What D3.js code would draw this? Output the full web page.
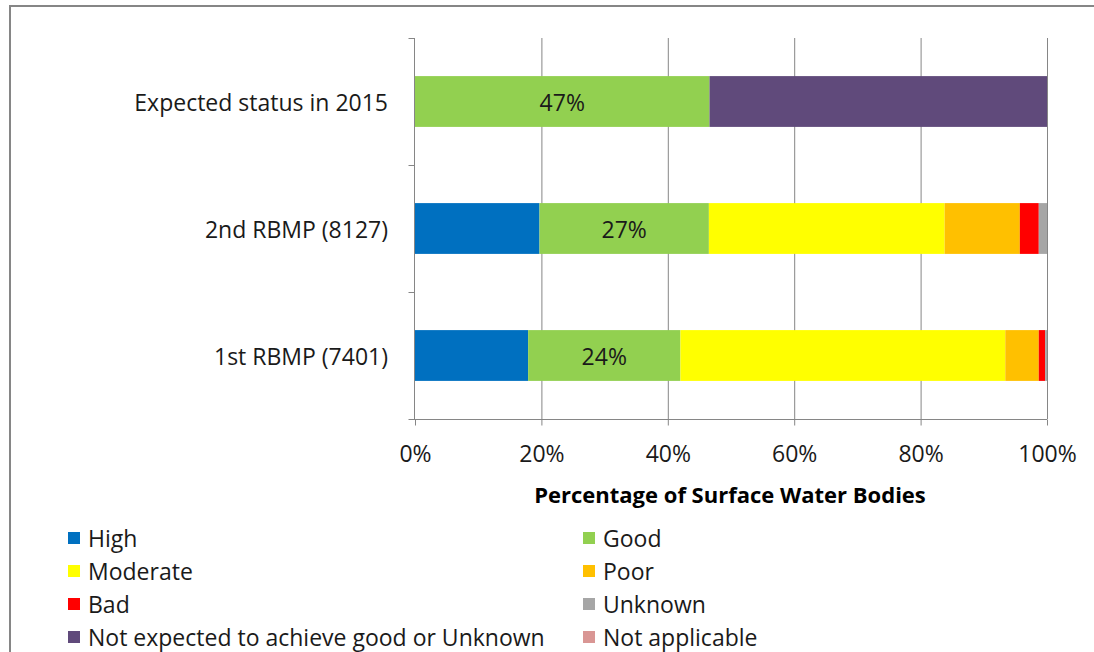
<!DOCTYPE html>
<html><head><meta charset="utf-8">
<script src="https://cdn.jsdelivr.net/npm/d3@7"></script>
<style>body{margin:0;background:#fff}svg{display:block}text{font-family:"Open Sans",Lato,sans-serif}</style>
</head><body><svg id="c" width="1094" height="652"></svg>
<script>
const categories = ["Expected status in 2015", "2nd RBMP (8127)", "1st RBMP (7401)"];
const seriesNames = ["High","Good","Moderate","Poor","Bad","Unknown","Not expected to achieve good or Unknown","Not applicable"];
const seriesColors = ["#0070C0","#92D050","#FFFF00","#FFC000","#FF0000","#A6A6A6","#604A7B","#D99694"];
const high     = [0, 19.7, 17.9];
const good     = [46.6, 26.8, 24.1];
const moderate = [0, 37.3, 51.4];
const poor     = [0, 11.9, 5.3];
const bad      = [0, 3.0, 1.0];
const unknown  = [0, 1.3, 0.3];
const notExpected = [53.4, 0, 0];
const notApplicable = [0, 0, 0];
const goodLabels = ["47%","27%","24%"];
const xTicks = [0,20,40,60,80,100];
const axisTitle = "Percentage of Surface Water Bodies";

const seriesValues = [high, good, moderate, poor, bad, unknown, notExpected, notApplicable];
const svg = d3.select("#c");
const FS = 23;
const TXT = "#1a1a1a";

// outer frame
svg.append("path").attr("d","M10,652 V6 H1094").attr("fill","none").attr("stroke","#868686").attr("stroke-width",2);

const x = d3.scaleLinear().domain([0,100]).range([415,1047]);
const y = d3.scaleBand().domain(categories).range([38,419]).paddingInner(0.6).paddingOuter(0.3);

// gridlines
svg.append("g").selectAll("line").data(xTicks.slice(1)).join("line")
  .attr("x1",d=>x(d)+0.5).attr("x2",d=>x(d)+0.5).attr("y1",38).attr("y2",419)
  .attr("stroke","#868686").attr("stroke-width",1);

// stacks
const rows = categories.map((c,i)=>{const o={cat:c}; seriesNames.forEach((s,j)=>o[s]=seriesValues[j][i]); return o;});
const stack = d3.stack().keys(seriesNames)(rows);
const g = svg.append("g");
stack.forEach((layer,j)=>{
  g.append("g").attr("fill",seriesColors[j]).selectAll("rect").data(layer).join("rect")
   .attr("x",d=>x(d[0])).attr("width",d=>Math.max(0,x(d[1])-x(d[0])))
   .attr("y",d=>y(d.data.cat)).attr("height",y.bandwidth());
});
// good labels
const goodLayer = stack[1];
svg.append("g").selectAll("text").data(goodLayer).join("text")
  .attr("x",d=>(x(d[0])+x(d[1]))/2).attr("y",d=>y(d.data.cat)+y.bandwidth()/2)
  .attr("text-anchor","middle").attr("dominant-baseline","central")
  .attr("font-size",FS).attr("fill",TXT).text((d,i)=>goodLabels[i]);

// y axis
const yAxisG = svg.append("g").attr("transform","translate(414.5,0)");
yAxisG.append("line").attr("y1",38).attr("y2",419).attr("stroke","#868686");
const yTicks = [0,1,2,3].map(i=>38+i*(381/3));
yAxisG.selectAll(".t").data(yTicks).join("line").attr("x1",-6).attr("x2",0)
  .attr("y1",d=>Math.round(d)+0.5).attr("y2",d=>Math.round(d)+0.5).attr("stroke","#868686");
svg.append("g").selectAll("text").data(categories).join("text")
  .attr("x",388).attr("y",d=>y(d)+y.bandwidth()/2).attr("text-anchor","end")
  .attr("dominant-baseline","central").attr("font-size",FS).attr("fill",TXT).text(d=>d);

// x axis
const xAxis = d3.axisBottom(x).tickValues(xTicks).tickFormat(d=>d+"%").tickSize(6);
const xg = svg.append("g").attr("transform","translate(0,419.5)").call(xAxis);
xg.select(".domain").attr("stroke","#868686").attr("d","M409,0H1047");
xg.selectAll(".tick line").attr("stroke","#868686");
xg.selectAll(".tick text").attr("font-size",FS).attr("fill",TXT).attr("font-family","Open Sans")
  .attr("y",33).attr("dy",null).attr("dominant-baseline","central");

svg.append("text").attr("x",730).attr("y",494).attr("text-anchor","middle").attr("dominant-baseline","central")
  .attr("font-size",22).attr("font-weight","bold").attr("fill","#000").text(axisTitle);

// legend
const lg = svg.append("g");
seriesNames.forEach((s,i)=>{
  const col=i%2,row=Math.floor(i/2);
  const lx = col===0?68:583, ly = 538+row*33;
  lg.append("rect").attr("x",lx).attr("y",ly-6).attr("width",12).attr("height",12).attr("fill",seriesColors[i]);
  lg.append("text").attr("x",lx+20).attr("y",ly).attr("dominant-baseline","central")
    .attr("font-size",FS).attr("fill",TXT).text(s);
});
</script></body></html>
